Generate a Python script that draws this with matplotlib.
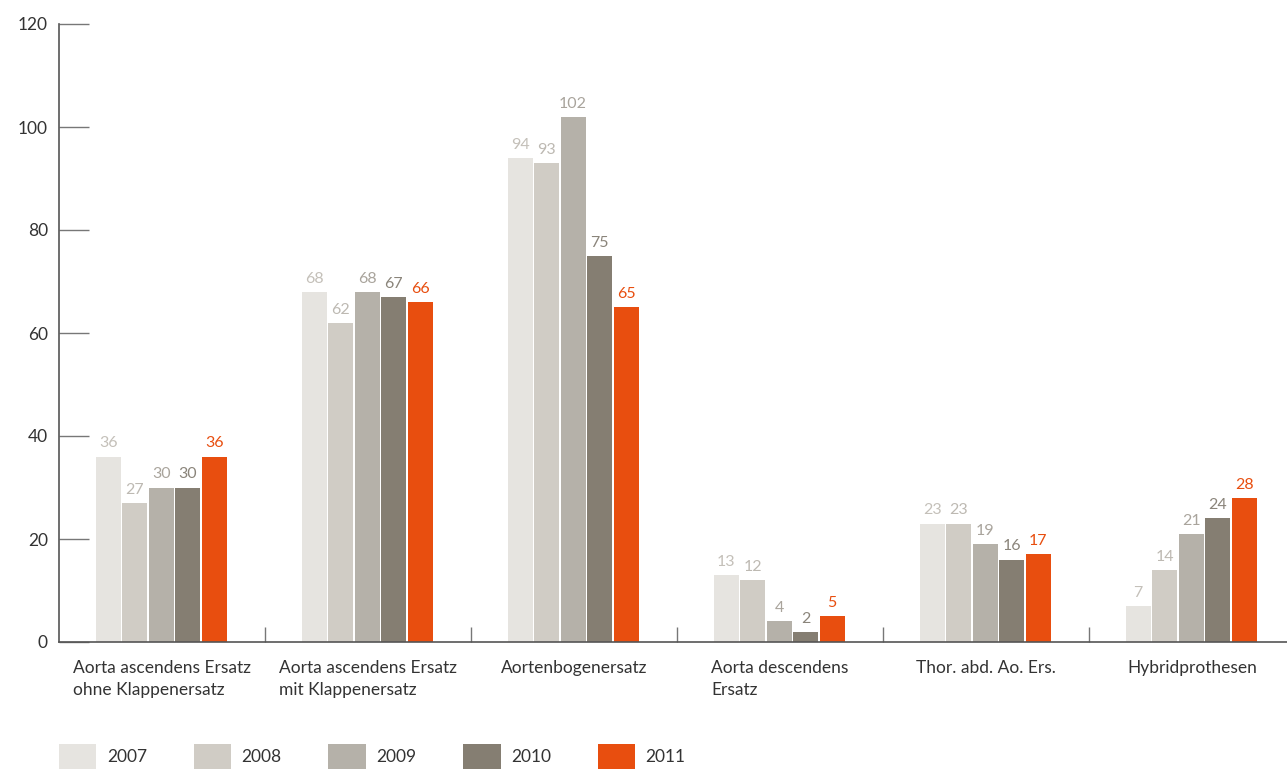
import numpy as np
import matplotlib
matplotlib.use("Agg")
import matplotlib.pyplot as plt

# data
categories = ["Aorta ascendens Ersatz\nohne Klappenersatz",
              "Aorta ascendens Ersatz\nmit Klappenersatz",
              "Aortenbogenersatz",
              "Aorta descendens\nErsatz",
              "Thor. abd. Ao. Ers.",
              "Hybridprothesen"]
years = ["2007", "2008", "2009", "2010", "2011"]
v2007 = [36, 68, 94, 13, 23, 7]
v2008 = [27, 62, 93, 12, 23, 14]
v2009 = [30, 68, 102, 4, 19, 21]
v2010 = [30, 67, 75, 2, 16, 24]
v2011 = [36, 66, 65, 5, 17, 28]
series = [v2007, v2008, v2009, v2010, v2011]

bar_colors = ["#e6e4e0", "#d0ccc5", "#b5b1a9", "#857e72", "#e84e0f"]
label_colors = ["#c4c0b9", "#bdb9b2", "#a9a49c", "#8a847a", "#e84e0f"]

plt.rcParams['font.family'] = ['Lato', 'DejaVu Sans']

fig = plt.figure(figsize=(12.87, 7.69), dpi=100)
ax = fig.add_axes([59/1287, 127/769, 1 - 59/1287, 618/769])

x = np.arange(len(categories)) + 0.5
step = 26.5 / 206
width = 25 / 206
for i, (vals, col, lcol, yr) in enumerate(zip(series, bar_colors, label_colors, years)):
    pos = x + (i - 2) * step - 0.004
    ax.bar(pos, vals, width=width, color=col, label=yr, zorder=2)
    for xp, v in zip(pos, vals):
        ax.text(xp, v + 1.2, str(v), ha='center', va='bottom',
                fontsize=11.5, color=lcol)

ax.set_ylim(0, 120)
ax.set_xlim(0, 1228 / 206)
ax.set_yticks([0, 20, 40, 60, 80, 100, 120])
ax.tick_params(axis='y', direction='in', length=21.6, width=1, color='#777777',
               labelsize=12.5, labelcolor='#333333', pad=8)

# group separators as major ticks, category names as minor
ax.set_xticks([1, 2, 3, 4, 5])
ax.set_xticklabels([])
ax.tick_params(axis='x', which='major', direction='in', length=11, width=1,
               color='#777777')
ax.set_xticks(x, minor=True)
ax.set_xticklabels(categories, minor=True)
ax.tick_params(axis='x', which='minor', length=0, pad=13, labelsize=12.5,
               labelcolor='#333333')
for lbl in ax.get_xticklabels(minor=True):
    lbl.set_multialignment('left')
    lbl.set_verticalalignment('top')
    lbl.set_linespacing(1.45)

for s in ['top', 'right']:
    ax.spines[s].set_visible(False)
for s in ['left', 'bottom']:
    ax.spines[s].set_color('#555555')
    ax.spines[s].set_linewidth(1.2)

leg = fig.legend(loc='lower left', bbox_to_anchor=(59/1287, 0.0), ncol=5,
                 frameon=False, fontsize=12.5, handlelength=2.15,
                 handleheight=1.85, handletextpad=0.6, columnspacing=2.7,
                 borderpad=0, borderaxespad=0)
for t in leg.get_texts():
    t.set_color('#333333')

fig.savefig("out.png", dpi=100)
